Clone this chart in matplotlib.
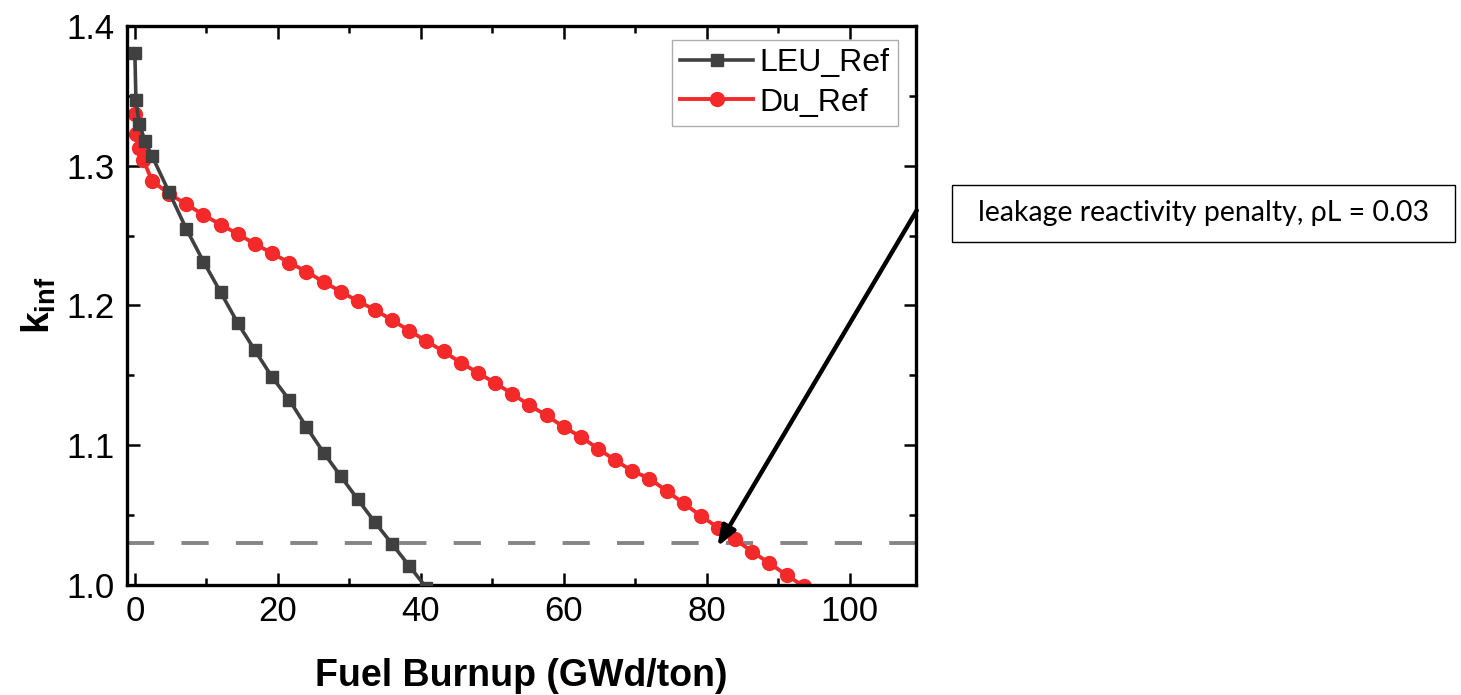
import matplotlib
matplotlib.use("Agg")
import matplotlib.pyplot as plt
from matplotlib.patches import Rectangle
from matplotlib.ticker import MultipleLocator

plt.rcParams['font.family'] = ['Liberation Sans', 'DejaVu Sans']
plt.rcParams['mathtext.fontset'] = 'custom'
plt.rcParams['mathtext.rm'] = 'Liberation Sans'
plt.rcParams['mathtext.bf'] = 'Liberation Sans:bold'
plt.rcParams['mathtext.it'] = 'Liberation Sans:italic'

# ---- data ----
leu_burnup = [0, 0.15, 0.6, 1.4, 2.4, 4.8, 7.2, 9.6, 12.0, 14.4, 16.8, 19.2, 21.6,
              24.0, 26.4, 28.8, 31.2, 33.6, 36.0, 38.4, 40.8]
leu_kinf = [1.381, 1.347, 1.330, 1.318, 1.307, 1.281, 1.2548, 1.2314, 1.2095, 1.1874,
            1.1679, 1.1488, 1.1325, 1.1131, 1.0948, 1.0779, 1.0612, 1.0448, 1.0293,
            1.0136, 0.998]

du_burnup = [0, 0.15, 0.6, 1.2, 2.4, 4.8, 7.2, 9.6, 12.0, 14.4, 16.8, 19.2, 21.6, 24.0,
             26.4, 28.8, 31.2, 33.6, 36.0, 38.4, 40.8, 43.2, 45.6, 48.0, 50.4, 52.8,
             55.2, 57.6, 60.0, 62.4, 64.8, 67.2, 69.6, 72.0, 74.4, 76.8, 79.2, 81.6,
             84.0, 86.4, 88.8, 91.2, 93.6]
du_kinf = [1.337, 1.323, 1.313, 1.304, 1.2893, 1.2798, 1.2726, 1.2648, 1.2579, 1.2512,
           1.2441, 1.2374, 1.2307, 1.2243, 1.2169, 1.2100, 1.2031, 1.1969, 1.1895,
           1.1820, 1.1745, 1.1671, 1.1591, 1.1519, 1.1445, 1.1369, 1.1286, 1.1214,
           1.1131, 1.1060, 1.0976, 1.0893, 1.0816, 1.0762, 1.0673, 1.0584, 1.0495,
           1.0410, 1.0326, 1.0238, 1.0155, 1.0071, 0.999]

leakage_limit = 1.03
series_labels = ['LEU_Ref', 'Du_Ref']
annotation_text = 'leakage reactivity penalty, \u03c1L = 0.03'
arrow_tip = (81.5, 1.0274)
arrow_tail = (109.4, 1.268)

# ---- figure ----
W, H = 1461, 695
fig = plt.figure(figsize=(W / 100, H / 100), dpi=100)
ax = fig.add_axes([127 / W, 1 - 585 / H, (916 - 127) / W, (585 - 26) / H])

ax.axhline(leakage_limit, color='#858585', lw=2.8, dashes=(7, 7), zorder=1)

ax.plot(leu_burnup, leu_kinf, color='#404040', lw=2.6, marker='s', ms=8.5,
        label=series_labels[0], zorder=3)
ax.plot(du_burnup, du_kinf, color='#f42a2a', lw=2.8, marker='o', ms=10,
        label=series_labels[1], zorder=2)

ax.set_xlim(-1.1, 109.3)
ax.set_ylim(1.0, 1.4)
ax.xaxis.set_major_locator(MultipleLocator(20))
ax.xaxis.set_minor_locator(MultipleLocator(10))
ax.yaxis.set_major_locator(MultipleLocator(0.1))
ax.yaxis.set_minor_locator(MultipleLocator(0.05))
ax.yaxis.set_major_formatter(matplotlib.ticker.FormatStrFormatter('%.1f'))

ax.tick_params(which='both', direction='in', top=True, right=True, width=1.8)
ax.tick_params(which='major', length=9, labelsize=25)
ax.tick_params(axis='y', which='major', pad=9)
ax.tick_params(axis='x', which='major', pad=7)
ax.tick_params(which='minor', length=5)
for s in ax.spines.values():
    s.set_linewidth(2.4)

ax.set_xlabel('Fuel Burnup (GWd/ton)', fontsize=27, fontweight='bold', labelpad=22)
ax.set_ylabel(r'$\mathbf{k_{inf}}$', fontsize=28, labelpad=6)

leg = ax.legend(loc='upper right', bbox_to_anchor=(0.977, 0.975), fontsize=23,
                frameon=True, fancybox=False, edgecolor='#999999', handlelength=2.3,
                borderpad=0.25, labelspacing=0.3, handletextpad=0.2, borderaxespad=0,
                handleheight=0.7)
leg.get_frame().set_linewidth(1.0)

ax.annotate('', xy=arrow_tip, xycoords='data', xytext=arrow_tail, textcoords='data',
            annotation_clip=False,
            arrowprops=dict(arrowstyle='-|>,head_length=1.2,head_width=0.45',
                            color='black', lw=3.2, shrinkA=0, shrinkB=0))

rect = Rectangle((952 / W, 1 - 242 / H), 503 / W, 57 / H, transform=fig.transFigure,
                 facecolor='white', edgecolor='black', lw=1.0)
fig.patches.append(rect)
fig.text((952 + 503 / 2) / W, 1 - 213 / H, annotation_text, ha='center', va='center',
         fontsize=20.5, family=['Lato', 'DejaVu Sans'])

fig.savefig('out.png', dpi=100)
